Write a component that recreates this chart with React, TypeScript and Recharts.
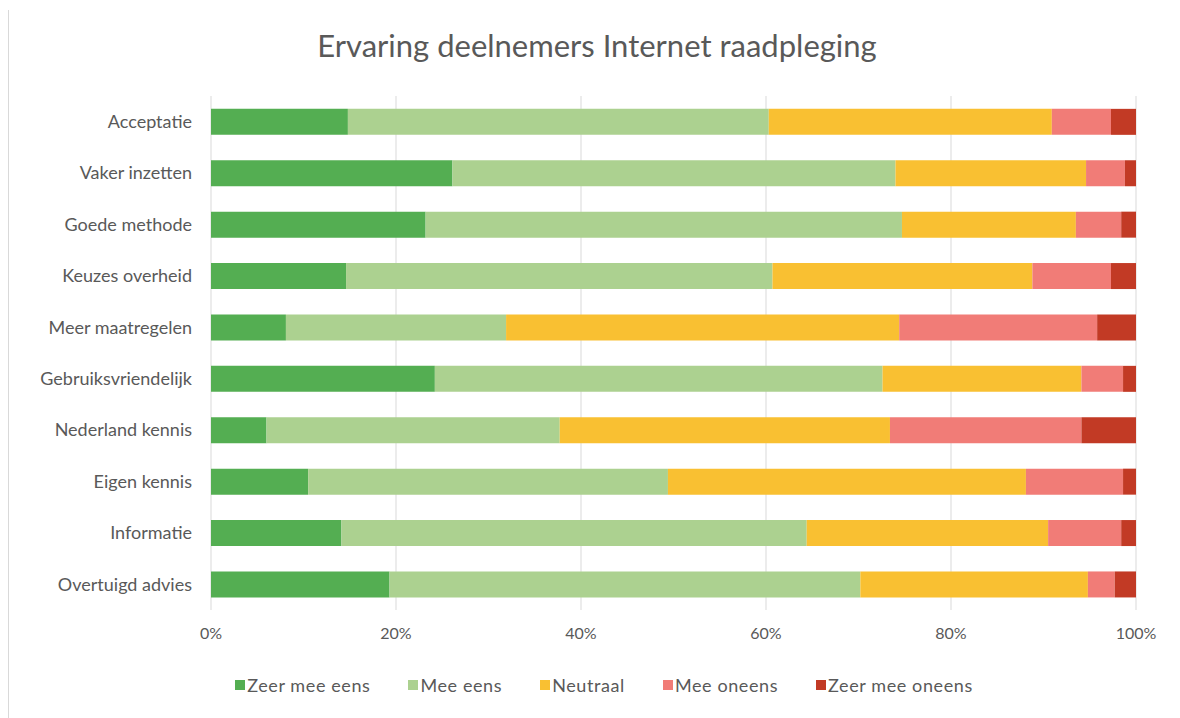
import React from 'react';
import { BarChart, Bar, XAxis, YAxis, CartesianGrid } from 'recharts';

const categories = [
  'Acceptatie',
  'Vaker inzetten',
  'Goede methode',
  'Keuzes overheid',
  'Meer maatregelen',
  'Gebruiksvriendelijk',
  'Nederland kennis',
  'Eigen kennis',
  'Informatie',
  'Overtuigd advies',
];

const zeerMeeEens = [14.8, 26.1, 23.2, 14.6, 8.1, 24.2, 6.0, 10.5, 14.1, 19.3];
const meeEens = [45.5, 47.9, 51.5, 46.1, 23.8, 48.4, 31.7, 38.9, 50.3, 50.9];
const neutraal = [30.6, 20.6, 18.8, 28.1, 42.5, 21.5, 35.7, 38.7, 26.1, 24.6];
const meeOneens = [6.4, 4.2, 4.9, 8.5, 21.4, 4.5, 20.7, 10.5, 7.9, 2.9];
const zeerMeeOneens = [2.7, 1.2, 1.6, 2.7, 4.2, 1.4, 5.9, 1.4, 1.6, 2.3];

const ticks = [0, 0.2, 0.4, 0.6, 0.8, 1];

const series = [
  { key: 'zeerMeeEens', name: 'Zeer mee eens', color: '#54ae52' },
  { key: 'meeEens', name: 'Mee eens', color: '#acd190' },
  { key: 'neutraal', name: 'Neutraal', color: '#f9c032' },
  { key: 'meeOneens', name: 'Mee oneens', color: '#f17c77' },
  { key: 'zeerMeeOneens', name: 'Zeer mee oneens', color: '#c23a25' },
];

const data = categories.map((name, i) => ({
  name,
  zeerMeeEens: zeerMeeEens[i],
  meeEens: meeEens[i],
  neutraal: neutraal[i],
  meeOneens: meeOneens[i],
  zeerMeeOneens: zeerMeeOneens[i],
}));

const font = 'Lato, "Open Sans", sans-serif';
const textColor = '#595959';

const App: React.FC = () => {
  return (
    <div style={{ position: 'absolute', left: 0, top: 0, width: 1180, height: 718, background: '#fff' }}>
      <div style={{ position: 'absolute', left: 8, top: 10, bottom: 0, borderLeft: '1px solid #d9d9d9' }} />
      <div
        style={{
          position: 'absolute',
          top: 26,
          left: 0,
          width: 1194,
          textAlign: 'center',
          fontFamily: font,
          fontSize: 31,
          color: textColor,
        }}
      >
        Ervaring deelnemers Internet raadpleging
      </div>
      <BarChart
        width={1180}
        height={718}
        data={data}
        layout="vertical"
        stackOffset="expand"
        barCategoryGap="25%"
        margin={{ top: 96, right: 44, bottom: 78, left: 0 }}
      >
        <CartesianGrid horizontal={false} stroke="#d9d9d9" />
        <XAxis
          type="number"
          domain={[0, 1]}
          ticks={ticks}
          tickFormatter={(v) => `${Math.round(v * 100)}%`}
          axisLine={false}
          tickLine={false}
          tickMargin={12}
          tick={{ fill: textColor, fontSize: 16, fontFamily: font }}
        />
        <YAxis
          type="category"
          dataKey="name"
          width={211}
          axisLine={false}
          tickLine={false}
          tickMargin={13}
          interval={0}
          tick={{ fill: textColor, fontSize: 18, fontFamily: font }}
        />
        {series.map((s) => (
          <Bar key={s.key} dataKey={s.key} name={s.name} stackId="a" fill={s.color} isAnimationActive={false} />
        ))}
      </BarChart>
      <div
        style={{
          position: 'absolute',
          top: 674,
          left: 14,
          width: 1180,
          display: 'flex',
          justifyContent: 'center',
          fontFamily: font,
          fontSize: 18,
          letterSpacing: 0.6,
          color: textColor,
        }}
      >
        {series.map((s) => (
          <div key={s.key} style={{ display: 'flex', alignItems: 'center', margin: '0 19px' }}>
            <span style={{ width: 10, height: 10, background: s.color, display: 'inline-block', marginRight: 2 }} />
            <span>{s.name}</span>
          </div>
        ))}
      </div>
    </div>
  );
};

export default App;
